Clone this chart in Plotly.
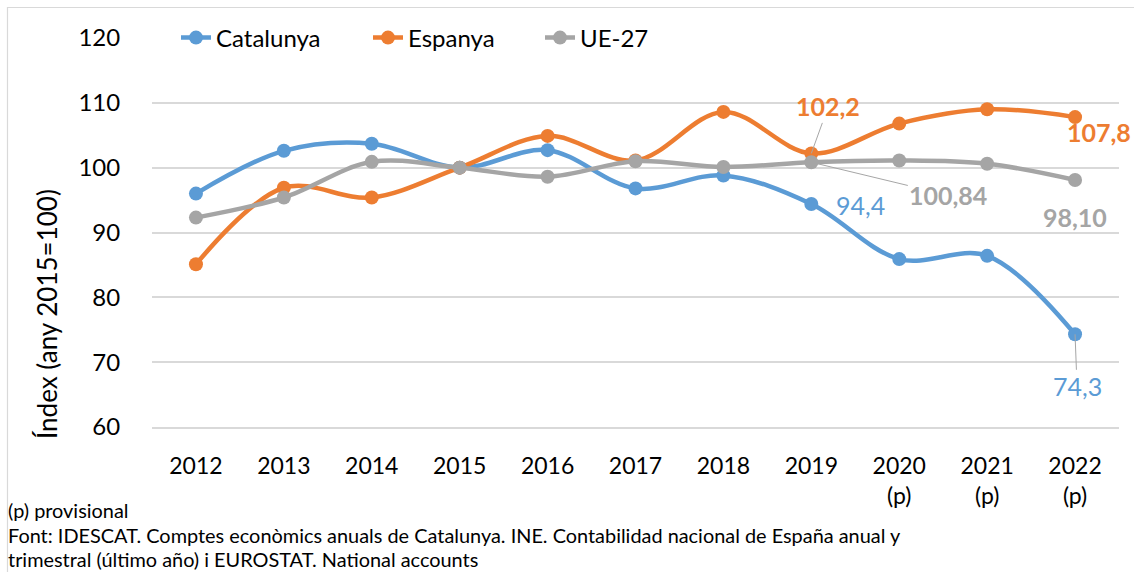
import plotly.graph_objects as go

years = ["2012", "2013", "2014", "2015", "2016", "2017", "2018", "2019", "2020", "2021", "2022"]
tick_labels = ["2012", "2013", "2014", "2015", "2016", "2017", "2018", "2019",
               "2020<br>(p)", "2021<br>(p)", "2022<br>(p)"]
catalunya = [96.0, 102.6, 103.7, 100.0, 102.7, 96.8, 98.8, 94.4, 85.9, 86.4, 74.3]
espanya = [85.1, 96.9, 95.4, 100.0, 104.9, 101.1, 108.6, 102.2, 106.8, 109.0, 107.8]
ue27 = [92.3, 95.4, 100.9, 100.0, 98.6, 101.0, 100.1, 100.84, 101.1, 100.6, 98.10]

series_names = ["Catalunya", "Espanya", "UE-27"]
colors = ["#5b9bd5", "#ed7d31", "#a5a5a5"]
FONT = "Lato"

W, H = 1134, 572
L, R, T, B = 152, 15, 38, 145
PW, PH = W - L - R, H - T - B


def px(xp):
    return (xp - L) / PW


def py(yp):
    return (H - B - yp) / PH


fig = go.Figure()
legends = ["legend2", "legend3", "legend4"]
for name, vals, col, lg in zip(series_names, [catalunya, espanya, ue27], colors, legends):
    fig.add_trace(go.Scatter(
        x=years, y=vals, name=name, mode="lines+markers",
        line=dict(color=col, width=4.5, shape="spline", smoothing=1.0),
        marker=dict(color=col, size=14),
        legend=lg, cliponaxis=False,
    ))

legend_common = dict(orientation="h", yanchor="middle", xanchor="left",
                     font=dict(family=FONT, size=24, color="black"),
                     bgcolor="rgba(0,0,0,0)", borderwidth=0)
leg_x = [176, 368, 540]
fig.update_layout(
    legend2=dict(x=px(leg_x[0]), y=1.0, **legend_common),
    legend3=dict(x=px(leg_x[1]), y=1.0, **legend_common),
    legend4=dict(x=px(leg_x[2]), y=1.0, **legend_common),
)

i19, i22 = years.index("2019"), years.index("2022")
ann = []
grey_line = "#a6a6a6"
lab_size = 25
ann.append(dict(x=i19, y=espanya[i19], text="<b>102,2</b>", showarrow=True, arrowhead=0,
                arrowwidth=1, arrowcolor=grey_line, ax=17, ay=-47,
                font=dict(family=FONT, size=lab_size, color=colors[1])))
ann.append(dict(x=i19, y=ue27[i19], text="<b>100,84</b>", showarrow=True, arrowhead=0,
                arrowwidth=1, arrowcolor=grey_line, ax=137, ay=33,
                font=dict(family=FONT, size=lab_size, color=colors[2])))
ann.append(dict(x=i19, y=catalunya[i19], text="94,4", showarrow=False,
                xshift=49, yshift=-1,
                font=dict(family=FONT, size=lab_size, color=colors[0])))
ann.append(dict(x=i22, y=espanya[i22], text="<b>107,8</b>", showarrow=False,
                xshift=24, yshift=-15,
                font=dict(family=FONT, size=lab_size, color=colors[1])))
ann.append(dict(x=i22, y=ue27[i22], text="<b>98,10</b>", showarrow=False,
                xshift=0, yshift=-37,
                font=dict(family=FONT, size=lab_size, color=colors[2])))
ann.append(dict(x=i22, y=catalunya[i22], text="74,3", showarrow=True, arrowhead=0,
                arrowwidth=1, arrowcolor=grey_line, ax=2, ay=52,
                font=dict(family=FONT, size=lab_size, color=colors[0])))

ann.append(dict(xref="paper", yref="paper", x=px(47), y=py(314), text="Índex (any 2015=100)",
                textangle=-90, showarrow=False, xanchor="center", yanchor="middle",
                font=dict(family=FONT, size=26, color="black")))

notes = ["(p) provisional",
         "Font: IDESCAT. Comptes econòmics anuals de Catalunya. INE. Contabilidad nacional de España anual y",
         "trimestral (último año) i EUROSTAT. National accounts"]
note_y = [510, 535, 559]
for t, yy in zip(notes, note_y):
    ann.append(dict(xref="paper", yref="paper", x=px(6), y=py(yy), text=t, showarrow=False,
                    xanchor="left", yanchor="middle",
                    font=dict(family=FONT, size=19.9, color="black")))

shapes = [dict(type="rect", xref="paper", yref="paper", x0=px(7.5), x1=px(1145),
               y0=py(590), y1=py(7.5), line=dict(color="#d9d9d9", width=1.2), layer="below")]

fig.update_layout(
    width=W, height=H,
    margin=dict(l=L, r=R, t=T, b=B),
    paper_bgcolor="white", plot_bgcolor="white",
    annotations=ann, shapes=shapes,
    xaxis=dict(type="category", range=[-0.5, 10.5], tickvals=years, ticktext=tick_labels,
               showgrid=False, zeroline=False, showline=True, linecolor="#d9d9d9", linewidth=1.5,
               ticks="outside", ticklen=18, tickcolor="rgba(0,0,0,0)",
               tickfont=dict(family=FONT, size=23, color="black")),
    yaxis=dict(range=[60, 120], dtick=10, showgrid=True, gridcolor="#d9d9d9", gridwidth=1.5,
               zeroline=False, showline=False, ticks="outside", ticklen=26,
               tickcolor="rgba(0,0,0,0)",
               tickfont=dict(family=FONT, size=24, color="black")),
)

fig.write_html("out.html", config={"displayModeBar": False},
               post_script="document.body.style.margin='0';document.body.style.overflow='hidden';")
